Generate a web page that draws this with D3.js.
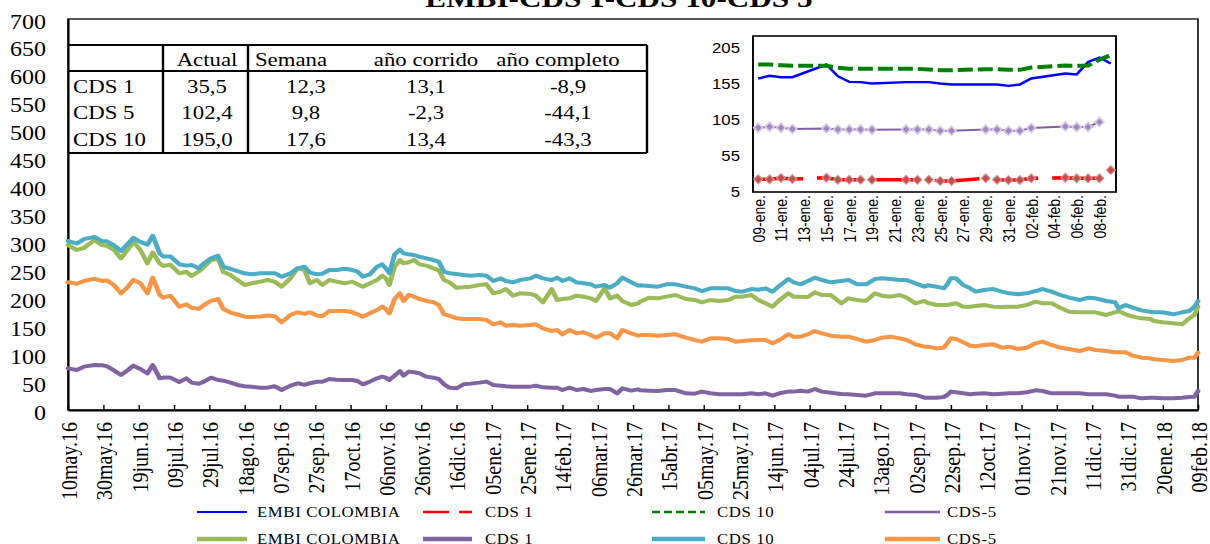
<!DOCTYPE html>
<html>
<head>
<meta charset="utf-8">
<script src="https://cdn.jsdelivr.net/npm/d3@7"></script>
<style>
  html, body { margin: 0; padding: 0; background: #fff; }
  svg { display: block; }
</style>
</head>
<body>
<script>
// ---- main chart data ----
var dates = [
  "2016-05-10","2016-05-15","2016-05-19","2016-05-25","2016-05-29","2016-06-01","2016-06-05","2016-06-09","2016-06-13","2016-06-16",
  "2016-06-20","2016-06-24","2016-06-27","2016-07-01","2016-07-03","2016-07-07","2016-07-12","2016-07-16","2016-07-19","2016-07-23",
  "2016-07-26","2016-07-30","2016-08-03","2016-08-06","2016-08-10","2016-08-14","2016-08-18","2016-08-22","2016-08-27","2016-08-31",
  "2016-09-04","2016-09-08","2016-09-13","2016-09-17","2016-09-21","2016-09-24","2016-09-28","2016-10-01","2016-10-05","2016-10-09",
  "2016-10-14","2016-10-18",
  "2016-10-21","2016-10-24","2016-10-28","2016-11-01","2016-11-04","2016-11-06","2016-11-08","2016-11-11","2016-11-14","2016-11-16",
  "2016-11-19","2016-11-22","2016-11-25","2016-11-29","2016-12-03","2016-12-06","2016-12-09","2016-12-12","2016-12-16","2016-12-20",
  "2016-12-24","2016-12-29","2017-01-02","2017-01-06","2017-01-10","2017-01-13","2017-01-17","2017-01-21","2017-01-27","2017-01-30",
  "2017-02-03","2017-02-08","2017-02-11","2017-02-14","2017-02-18","2017-02-22","2017-02-26","2017-03-02","2017-03-05","2017-03-10",
  "2017-03-13","2017-03-17","2017-03-20","2017-03-25","2017-03-29",
  "2017-03-30","2017-04-04","2017-04-09","2017-04-14","2017-04-19","2017-04-25","2017-04-30","2017-05-04","2017-05-09","2017-05-14",
  "2017-05-19","2017-05-23","2017-05-27","2017-06-01","2017-06-05","2017-06-09","2017-06-13","2017-06-17","2017-06-22","2017-06-25",
  "2017-06-29","2017-07-03","2017-07-07","2017-07-11","2017-07-16","2017-07-22","2017-07-26","2017-07-31","2017-08-05","2017-08-10",
  "2017-08-14","2017-08-19","2017-08-24","2017-08-28","2017-09-02","2017-09-07",
  "2017-09-09","2017-09-14","2017-09-18","2017-09-20","2017-09-22","2017-09-25","2017-09-29","2017-10-03","2017-10-06","2017-10-11",
  "2017-10-16","2017-10-21","2017-10-25","2017-10-30","2017-11-04","2017-11-09","2017-11-13","2017-11-18","2017-11-23","2017-11-28",
  "2017-12-04","2017-12-09","2017-12-13","2017-12-19","2017-12-24","2017-12-26","2017-12-30","2018-01-03","2018-01-08","2018-01-13",
  "2018-01-15","2018-01-20","2018-01-26","2018-01-31","2018-02-04","2018-02-07","2018-02-09"
];

var embi = [
  295.4,286.5,290,304.3,295.4,294,286.5,271.5,288,301.4,286.5,262.6,282,262,258,260,244.7,247.6,240,248,
  256,268,271,247,241.7,232.7,223.8,226.8,229.8,232.7,229.8,220.8,235.7,253.6,250.6,226.8,232.7,223.8,232.7,229.8,
  226.8,229.8,
  225,220.8,226.8,232.7,240.5,235.7,223.8,256.6,268.5,262.6,264.4,268.5,260.8,258.4,253.6,250,232.7,228.6,219,219.6,
  220.8,223.8,225,208.9,211.9,216.6,204.7,208.9,207.7,204.7,192.8,216.6,197,198.7,199.9,204.7,202.9,199.9,195.2,217.8,
  199.9,204.7,195.2,188,191,
  194,201.1,199.9,202.9,205.9,198.7,197,192.8,197,195.2,197,202.9,202.9,205.9,197,191,185,197,208.9,202.9,
  202.9,202.3,210.7,205.9,205.9,191,199.9,197,195.2,208.9,204.7,202.9,205.9,201.1,191,195.2,
  191.6,188,188,188,189.2,191,185,185,186.2,188,185,184.4,185,185,188,194,191,191,183.2,176,
  174.9,174.9,174.9,170.1,174.9,177.3,171.3,167.1,164.1,162.9,159.3,157,155.2,153.4,164.1,170.1,185
];

var cds1 = [
  74.6,71.6,77.6,80.6,80,78.6,71,62.7,71.6,79.4,73.4,65.7,80.6,56.7,58,58,50,56.7,49,47,
  50.8,57.9,53.7,52.5,49,44.8,42.5,41.8,40,40,42.5,35.8,43.6,47.8,45,48,50.5,50.5,55.5,54,
  53.7,53.7,
  51.9,46,50.8,56.7,59.7,57.9,53.7,61.5,69.8,61.5,68.7,67.5,65.7,59.7,57.9,55.5,46,40,38.8,46,
  47.2,49,50.8,44.8,43.6,42.4,41.8,41.8,41.8,43.6,40.6,40,40,35.8,40,35.8,37.6,34.1,35.8,37.6,
  37.6,29.9,38.8,34.6,37,
  35.2,34.6,34,35.8,35.8,29.9,29.3,32.9,29.9,28.1,28.1,28.1,28.1,29.9,28.1,29.9,25.7,29.9,32.9,32.9,
  34.6,32.9,37.6,32.9,31,28.7,28.1,26.9,25.7,29.9,29.9,29.9,29.9,28.1,26.9,22.1,
  22.1,22.1,23.3,26.9,32.9,31.7,29.9,28.1,29.3,29.9,28.1,29.3,29.9,29.9,31.7,35.2,34,29.9,29.9,29.9,
  29.9,28.1,28.1,28.1,25.7,23.9,23.9,23.9,20.9,22.1,22.1,20.9,20.9,22.1,23.3,23.9,34
];

var cds10 = [
  302.6,298,306,310,302.6,302,295,284.7,298,308,301,296,312,280,275,275,261,258.5,259.6,253.6,
  262.6,271.5,276.3,256.6,252.6,248.5,244.7,242.9,245,245,245,238.5,244.7,253.6,256.6,246,243,244,250.6,250.6,
  253,250.6,
  247.7,238.7,242.9,256.6,260.8,253.6,244.7,278.7,287,280.5,278.7,277.5,274.5,271.5,268.5,265.6,247.7,244.7,243.5,241.7,
  240.5,241.7,240.5,231,235.7,231,228.6,232.7,235.7,240.5,235.7,232.7,236.9,231,235.7,228.6,226.8,225,220.8,223.8,
  219,226.8,236.9,228.6,222.6,
  223.2,222,220.8,225,225,220.8,217.8,213,217.8,217.8,217.8,213,211.9,216.6,215.4,217.8,211.9,222.6,234.5,228.6,
  225,231,236.9,232.7,228.6,231,232.7,225,225,234.5,235.7,234.5,232.7,232.7,226.8,220.8,
  223.2,220.8,217.8,225,235.7,235.7,223.8,217.8,211.9,214.8,216.6,211.9,208.9,207.1,208.9,213,216.6,211.9,205.9,201.1,
  196.9,201.1,199.9,195.2,192.8,182,188,183.2,178.4,176,174.9,174.9,171.3,174.9,177.3,185,195
];

var cds5 = [
  228.6,226,231,235,231,232,223.8,208.9,220.8,233,226.8,208.9,237,205.9,201.1,204.7,185,189,183,181,
  188,195.2,198.7,180.8,174.5,171,167,166.5,167.5,169,168,157,170,174.9,172,175,169,168,177.3,177.3,
  177.3,174.9,
  171.3,167.1,173,179,185,180.8,173,198.7,208.9,195.2,205.9,202.9,198.7,195.2,192.8,188,171.3,168.9,164.1,162.9,
  162.9,162.9,161.1,153.4,157,151,152.2,151,152.2,153.4,146.2,141.4,143.2,135.5,143.2,137.3,139.1,134.3,129.5,137.3,
  137.3,128.3,143.2,137.3,133.1,
  134.3,134.3,133.1,134.3,135.5,129.5,125.3,122.3,128.3,128.3,127.1,122.3,123.5,124.7,125.3,125.3,119.4,125.3,135.5,131.3,
  131.3,135.5,141.4,137.3,133.1,131.3,131.3,127.1,122.3,125.3,129.5,131.3,128.3,125.3,117.6,113.4,
  113.4,110.4,111.6,119.4,128.3,127.1,121.2,115.2,114,116.4,117.6,111.6,113.4,109.2,111.6,119.4,122.3,116.4,111.6,109.2,
  105.6,110.4,107.4,105.6,103.3,103.3,103.3,97.3,93.7,92.5,90.7,89.5,87.7,89.5,93.7,93.7,102.4
];

var yTicks = [0,50,100,150,200,250,300,350,400,450,500,550,600,650,700];
var xTickLabels = [
  "10may.16","30may.16","19jun.16","09jul.16","29jul.16","18ago.16","07sep.16","27sep.16","17oct.16","06nov.16",
  "26nov.16","16dic.16","05ene.17","25ene.17","14feb.17","06mar.17","26mar.17","15abr.17","05may.17","25may.17",
  "14jun.17","04jul.17","24jul.17","13ago.17","02sep.17","22sep.17","12oct.17","01nov.17","21nov.17","11dic.17",
  "31dic.17","20ene.18","09feb.18"
];

// ---- inset (last month) ----
var insetDates = [
  "2018-01-09","2018-01-10","2018-01-11","2018-01-12","2018-01-15","2018-01-16","2018-01-17","2018-01-18","2018-01-19",
  "2018-01-22","2018-01-23","2018-01-24","2018-01-25","2018-01-26","2018-01-29","2018-01-30","2018-01-31","2018-02-01",
  "2018-02-02","2018-02-05","2018-02-06","2018-02-07","2018-02-08","2018-02-09"
];
var embiInset = [162.9,166.6,164.7,164.7,182.3,166.1,158.2,157.8,155.9,157.8,157.8,157.8,155.9,154.5,154.5,154.5,152.7,154.5,162.9,169.8,168.4,186,192,183.7];
var cds1Inset = [22.6,22.6,24.4,23,24.9,22.1,22.1,22.1,22.1,22.1,22.1,22.1,20.3,20.3,24,22.1,21.7,21.7,24,24.9,24,24,24,35.5];
var cds10Inset = [182.3,182.3,181.4,180.5,180.5,177.7,176.3,176.3,176.3,176.3,176.3,175.4,174.4,174.4,175.8,175.8,174.9,174.9,178.1,180.9,180.5,180.9,189.3,195];
var cds5Inset = [94.3,95.7,94.3,92.5,93.4,92,92,92,91.6,92,92,92,90.2,90.2,92,92,90.2,90.2,93.9,96.2,95.3,95.3,102.4,null];
var insetYTicks = [5,55,105,155,205];
var insetTicks = [
  "2018-01-09","2018-01-11","2018-01-13","2018-01-15","2018-01-17","2018-01-19","2018-01-21","2018-01-23",
  "2018-01-25","2018-01-27","2018-01-29","2018-01-31","2018-02-02","2018-02-04","2018-02-06","2018-02-08"
];

// ---- summary table ----
var tableCols = ["Actual","Semana","año corrido","año completo"];
var tableRows = ["CDS 1","CDS 5","CDS 10"];
var tableValues = [
  ["35,5","12,3","13,1","-8,9"],
  ["102,4","9,8","-2,3","-44,1"],
  ["195,0","17,6","13,4","-43,3"]
];

var legendNames = ["EMBI COLOMBIA","CDS 1","CDS 10","CDS-5"];

// ---------------------------------------------------------------
var W = 1210, H = 544;
// the picture is stretched sideways, so draw in a narrower box and let the svg widen it
var SX = 1.2;
function X(v) { return v / SX; }

var es = d3.timeFormatLocale({
  dateTime: "%x %X", date: "%d/%m/%Y", time: "%H:%M:%S", periods: ["AM", "PM"],
  days: ["domingo","lunes","martes","miércoles","jueves","viernes","sábado"],
  shortDays: ["dom","lun","mar","mié","jue","vie","sáb"],
  months: ["enero","febrero","marzo","abril","mayo","junio","julio","agosto","septiembre","octubre","noviembre","diciembre"],
  shortMonths: ["ene","feb","mar","abr","may","jun","jul","ago","sep","oct","nov","dic"]
});
var parseIso = d3.utcParse("%Y-%m-%d");
var parseTick = es.utcParse("%d%b.%y");
var fmtTick = es.utcFormat("%d%b.%y");
var fmtInset = es.utcFormat("%d-%b.");

var serif = "'Liberation Serif', 'Times New Roman', serif";
var sans = "'Liberation Sans', Arial, sans-serif";

var svg = d3.select("body").append("svg")
  .attr("width", W).attr("height", H)
  .attr("viewBox", "0 0 " + (W / SX) + " " + H)
  .attr("preserveAspectRatio", "none");

// title (cut off at the top like the original)
svg.append("text")
  .attr("x", X(619)).attr("y", 7)
  .attr("text-anchor", "middle")
  .attr("font-family", serif).attr("font-size", "26px").attr("font-weight", "bold")
  .text("EMBI-CDS 1-CDS 10-CDS 5");

// ---- main chart ----
var margin = { top: 19, bottom: 410, left: 68, right: 1198 };

var xScale = d3.scaleUtc()
  .domain([parseIso(dates[0]), parseIso(dates[dates.length - 1])])
  .range([X(margin.left), X(margin.right)]);
var yScale = d3.scaleLinear().domain([0, 700]).range([margin.bottom, margin.top]);

// frame
svg.append("rect")
  .attr("x", X(margin.left)).attr("y", margin.top)
  .attr("width", X(margin.right) - X(margin.left)).attr("height", margin.bottom - margin.top)
  .attr("fill", "none").attr("stroke", "#000").attr("stroke-width", 1.3);

// y axis
var yAxis = svg.append("g")
  .attr("transform", "translate(" + X(margin.left) + ",0)")
  .call(d3.axisLeft(yScale).tickValues(yTicks).tickSize(0).tickPadding(X(22)));
yAxis.select(".domain").attr("stroke", "#000").attr("stroke-width", 1.6);
yAxis.selectAll("text")
  .attr("font-family", serif).attr("font-size", "20px").attr("fill", "#000")
  .attr("dy", "0.45em");

// x axis
var xTickDates = xTickLabels.map(function(s) { return parseTick(s); });
var xAxis = svg.append("g")
  .attr("transform", "translate(0," + margin.bottom + ")")
  .call(d3.axisBottom(xScale).tickValues(xTickDates).tickSizeInner(-5).tickSizeOuter(0).tickFormat(fmtTick));
xAxis.select(".domain").attr("stroke", "#000").attr("stroke-width", 1.8);
xAxis.selectAll(".tick line").attr("stroke", "#000").attr("stroke-width", 1.2);
xAxis.selectAll("text")
  .attr("font-family", serif).attr("font-size", "20px").attr("fill", "#000")
  .attr("transform", "rotate(-90)")
  .attr("text-anchor", "end")
  .attr("x", -12).attr("y", 0).attr("dy", "0.35em");

// thick series lines
var mainSeries = [
  { values: embi, color: "#9BBB59" },
  { values: cds1, color: "#8064A2" },
  { values: cds10, color: "#4BACC6" },
  { values: cds5, color: "#F79646" }
];
var mainLine = d3.line()
  .x(function(d) { return xScale(d.date); })
  .y(function(d) { return yScale(d.v); });

mainSeries.forEach(function(s) {
  var pts = dates.map(function(dt, i) { return { date: parseIso(dt), v: s.values[i] }; });
  svg.append("path")
    .datum(pts)
    .attr("d", mainLine)
    .attr("fill", "none")
    .attr("stroke", s.color)
    .attr("stroke-width", 4)
    .attr("stroke-linejoin", "round")
    .attr("stroke-linecap", "round");
});

// ---- table ----
var table = svg.append("g").attr("font-family", serif).attr("font-size", "19px").attr("fill", "#000");
var tl = 68, tr = 647, tTop = 45, tHead = 71, tBot = 153;
[[tl, tTop, tr, tTop], [tl, tHead, tr, tHead], [tl, tBot, tr, tBot], [tr, tTop, tr, tBot],
 [163, tTop, 163, tBot], [248, tTop, 248, tBot]].forEach(function(l) {
  table.append("line")
    .attr("x1", X(l[0])).attr("y1", l[1]).attr("x2", X(l[2])).attr("y2", l[3])
    .attr("stroke", "#000").attr("stroke-width", 2);
});
var headX = [207, 291, 426, 558];
var valX = [207, 306, 426, 568];
var rowY = [93, 119.5, 146];
table.selectAll(".head").data(tableCols).enter().append("text")
  .attr("x", function(d, i) { return X(headX[i]); }).attr("y", 66)
  .attr("text-anchor", "middle").text(function(d) { return d; });
table.selectAll(".rowlab").data(tableRows).enter().append("text")
  .attr("x", X(73)).attr("y", function(d, i) { return rowY[i]; })
  .text(function(d) { return d; });
tableValues.forEach(function(row, r) {
  row.forEach(function(v, c) {
    table.append("text")
      .attr("x", X(valX[c])).attr("y", rowY[r])
      .attr("text-anchor", "middle").text(v);
  });
});

// ---- inset chart ----
var iDates = insetDates.map(parseIso);
var ix = d3.scaleUtc()
  .domain([d3.utcHour.offset(iDates[0], -11), d3.utcHour.offset(iDates[iDates.length - 1], 11)])
  .range([X(753), X(1116)]);
var iy = d3.scaleLinear().domain([5, 222]).range([192, 36]);

var inset = svg.append("g");
inset.append("rect")
  .attr("x", X(753)).attr("y", 36)
  .attr("width", X(1116) - X(753)).attr("height", 156)
  .attr("fill", "#fff").attr("stroke", "#000").attr("stroke-width", 1.6);

var iyAxis = inset.append("g")
  .attr("transform", "translate(" + X(753) + ",0)")
  .call(d3.axisLeft(iy).tickValues(insetYTicks).tickSize(0).tickPadding(X(13)));
iyAxis.select(".domain").remove();
iyAxis.selectAll("text").attr("font-family", sans).attr("font-size", "14px").attr("fill", "#000");

var ixAxis = inset.append("g")
  .attr("transform", "translate(0,192)")
  .call(d3.axisBottom(ix).tickValues(insetTicks.map(parseIso)).tickSize(0).tickFormat(fmtInset));
ixAxis.select(".domain").remove();
ixAxis.selectAll("text")
  .attr("font-family", sans).attr("font-size", "14px").attr("fill", "#000")
  .attr("transform", "rotate(-90)")
  .attr("text-anchor", "end")
  .attr("x", -3).attr("y", 0).attr("dy", "0.35em");

var iLine = d3.line()
  .defined(function(d) { return d.v != null; })
  .x(function(d) { return ix(d.date); })
  .y(function(d) { return iy(d.v); });
function pts(values) {
  return iDates.map(function(dt, i) { return { date: dt, v: values[i] }; });
}

inset.append("path").datum(pts(embiInset)).attr("d", iLine)
  .attr("fill", "none").attr("stroke", "#0000FF").attr("stroke-width", 2.4);
inset.append("path").datum(pts(cds1Inset)).attr("d", iLine)
  .attr("fill", "none").attr("stroke", "#FF0000").attr("stroke-width", 3.5)
  .attr("stroke-dasharray", X(45) + "," + X(14));
inset.append("path").datum(pts(cds10Inset)).attr("d", iLine)
  .attr("fill", "none").attr("stroke", "#008000").attr("stroke-width", 4)
  .attr("stroke-dasharray", X(15) + "," + X(5));
inset.append("path").datum(pts(cds5Inset)).attr("d", iLine)
  .attr("fill", "none").attr("stroke", "#7F60A8").attr("stroke-width", 2);

function diamond(r) {
  var w = r / SX;
  return "M0," + (-r) + "L" + w + ",0L0," + r + "L" + (-w) + ",0Z";
}
inset.selectAll(".m5").data(pts(cds5Inset).filter(function(d) { return d.v != null; }))
  .enter().append("path")
  .attr("d", diamond(4.5))
  .attr("transform", function(d) { return "translate(" + ix(d.date) + "," + iy(d.v) + ")"; })
  .attr("fill", "#9F88C2").attr("stroke", "#D6CCE6").attr("stroke-width", 1.5);
inset.selectAll(".m1").data(pts(cds1Inset))
  .enter().append("path")
  .attr("d", diamond(4.5))
  .attr("transform", function(d) { return "translate(" + ix(d.date) + "," + iy(d.v) + ")"; })
  .attr("fill", "#C0504D").attr("stroke", "#D99694").attr("stroke-width", 1);

// ---- legend ----
var legendRows = [
  [
    { color: "#0000FF", width: 2, dash: null },
    { color: "#FF0000", width: 2.5, dash: X(26) + "," + X(10) },
    { color: "#008000", width: 2.5, dash: X(8) + "," + X(4) },
    { color: "#7F60A8", width: 2.5, dash: null }
  ],
  [
    { color: "#9BBB59", width: 4.5, dash: null },
    { color: "#8064A2", width: 4.5, dash: null },
    { color: "#4BACC6", width: 4.5, dash: null },
    { color: "#F79646", width: 4.5, dash: null }
  ]
];
var legLineX = [[197, 247], [423, 472], [652, 705], [885, 940]];
var legTextX = [257, 485, 717, 947];
var legY = [512, 539];

var legend = svg.append("g").attr("font-family", serif).attr("font-size", "14px").attr("fill", "#000");
legendRows.forEach(function(row, r) {
  row.forEach(function(st, i) {
    legend.append("line")
      .attr("x1", X(legLineX[i][0])).attr("x2", X(legLineX[i][1]))
      .attr("y1", legY[r]).attr("y2", legY[r])
      .attr("stroke", st.color).attr("stroke-width", st.width)
      .attr("stroke-dasharray", st.dash);
    legend.append("text")
      .attr("x", X(legTextX[i])).attr("y", legY[r]).attr("dy", "0.35em")
      .attr("letter-spacing", "0.5px")
      .text(legendNames[i]);
  });
});
</script>
</body>
</html>
